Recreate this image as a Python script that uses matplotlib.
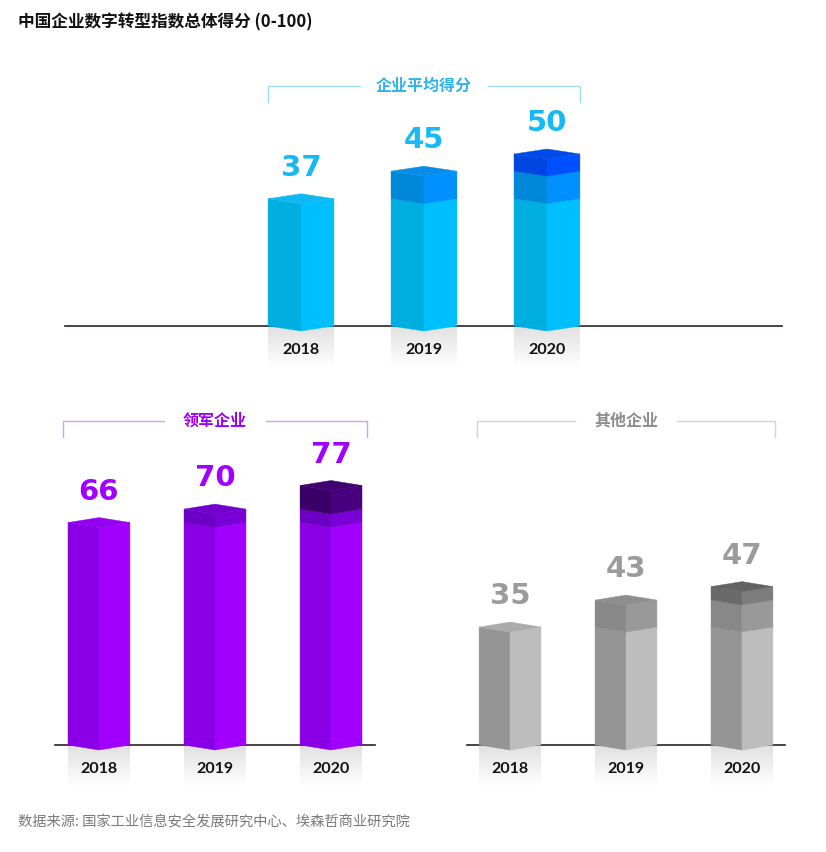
import numpy as np
import matplotlib
matplotlib.use('Agg')
import matplotlib.pyplot as plt
from matplotlib.patches import Polygon

plt.rcParams['font.family'] = ['Noto Sans CJK SC', 'DejaVu Sans']

years = ['2018', '2019', '2020']
avg_scores = [37, 45, 50]
leader_scores = [66, 70, 77]
other_scores = [35, 43, 47]

title = '中国企业数字转型指数总体得分 (0-100)'
source = '数据来源: 国家工业信息安全发展研究中心、埃森哲商业研究院'

# (left face, right face, cap) for the 2018 base / 2019 / 2020 increments
blue = [('#00aee0', '#00bfff', '#10b8f2'),
        ('#0088d8', '#0090ff', '#078ce8'),
        ('#0046e0', '#0050ff', '#004be8')]
purple = [('#8a00e6', '#a100ff', '#9400f0'),
          ('#6c00c4', '#7a00d8', '#7000cc'),
          ('#3a0068', '#48007e', '#40006f')]
grey = [('#959595', '#bdbdbd', '#ababab'),
        ('#888888', '#999999', '#8e8e8e'),
        ('#6a6a6a', '#7c7c7c', '#626262')]

W, H = 826, 852
fig = plt.figure(figsize=(W / 100, H / 100), dpi=100)


def panel(x0, x1, base_px, pxu, xlim):
    # axes whose y=0 sits on the baseline at pixel row base_px
    top_px = 60
    ax = fig.add_axes([x0 / W, (H - base_px) / H, (x1 - x0) / W, (base_px - top_px) / H])
    ax.set_xlim(xlim)
    ax.set_ylim(0, (base_px - top_px) / pxu)
    ax.axis('off')
    return ax


def draw(ax, scores, cols, lab_col, header, head_col, br_col, pxu, hw, head_px, gap_px, ext_px):
    d = 5 / pxu
    ppx = (ax.get_position().width * W) / (ax.get_xlim()[1] - ax.get_xlim()[0])
    ax.axhline(0, color='#2e2424', lw=1.2, zorder=2, clip_on=False)
    grad = np.linspace(0.88, 1.0, 64).reshape(-1, 1)
    for i, v in enumerate(scores):
        xl, xr = i - hw, i + hw
        # floor reflection
        ax.imshow(grad, extent=(xl, xr, -42 / pxu, 0), aspect='auto', cmap='gray',
                  vmin=0, vmax=1, zorder=1, clip_on=False)
        lo = 0
        for j in range(i + 1):
            hi = scores[j]
            lc, rc, _ = cols[j]
            ax.add_patch(Polygon([(xl, lo), (i, lo - d), (i, hi - d), (xl, hi)],
                                 closed=True, fc=lc, ec=lc, lw=0.3, zorder=3, clip_on=False))
            ax.add_patch(Polygon([(i, lo - d), (xr, lo), (xr, hi), (i, hi - d)],
                                 closed=True, fc=rc, ec=rc, lw=0.3, zorder=3, clip_on=False))
            lo = hi
        cc = cols[i][2]
        ax.add_patch(Polygon([(xl, v), (i, v + d), (xr, v), (i, v - d)],
                             closed=True, fc=cc, ec=cc, lw=0.3, zorder=4, clip_on=False))
        ax.text(i, v + 31 / pxu, str(v), ha='center', va='center', fontsize=21,
                fontweight='bold', family='DejaVu Sans', color=lab_col, zorder=5)
        ax.text(i, -24 / pxu, years[i], ha='center', va='center', fontsize=11.5,
                fontweight='bold', family=['Lato', 'DejaVu Sans'], color='#111111', zorder=5)
    # header bracket
    yh = head_px / pxu
    yt = yh - 16 / pxu
    bl = -hw - ext_px / ppx
    brr = len(scores) - 1 + hw + ext_px / ppx
    mid = (len(scores) - 1) / 2
    g = gap_px / ppx
    kw = dict(color=br_col, lw=1, clip_on=False, zorder=2)
    ax.plot([bl, bl, mid - g], [yt, yh, yh], **kw)
    ax.plot([mid + g, brr, brr], [yh, yh, yt], **kw)
    ax.text(mid, yh, header, ha='center', va='center', fontsize=11.5,
            fontweight='bold', color=head_col)


# top: all companies average
pxu_top = 3.44
ax1 = panel(65, 782, 326, pxu_top, (-1.919, 3.911))
draw(ax1, avg_scores, blue, '#14b9f5', '企业平均得分', '#2bb3ee', '#9ddcf5',
     pxu_top, 0.268, 240, 64, 0)

pxu_bot = 3.37
ax2 = panel(55, 375, 745, pxu_bot, (-0.379, 2.379))
draw(ax2, leader_scores, purple, '#a100ff', '领军企业', '#9a00f5', '#d79aff',
     pxu_bot, 0.267, 324, 51, 5)

ax3 = panel(467, 785, 745, pxu_bot, (-0.371, 2.371))
draw(ax3, other_scores, grey, '#9b9b9b', '其他企业', '#8c8c8c', '#d4d4d4',
     pxu_bot, 0.267, 324, 51, 2)

fig.text(18 / W, 1 - 22 / H, title, ha='left', va='center', fontsize=12,
         fontweight='bold', color='#111111')
fig.text(18 / W, 1 - 822 / H, source, ha='left', va='center', fontsize=10.3,
         color='#7a7a7a')

fig.savefig('out.png', dpi=100, facecolor='white')
